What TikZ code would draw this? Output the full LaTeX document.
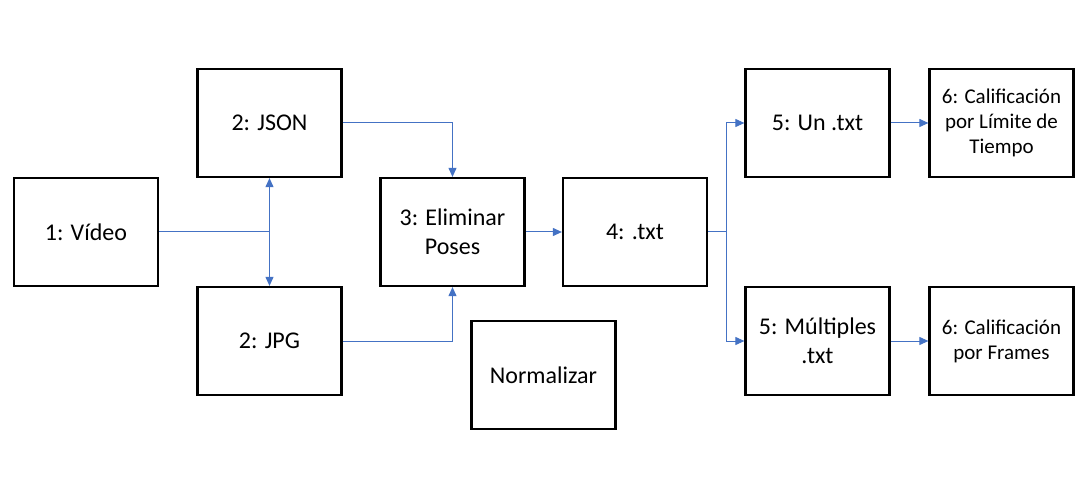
\documentclass[tikz,border=0pt]{standalone}
\usepackage{fontspec}
\setmainfont{Carlito}
\usetikzlibrary{arrows.meta}
\definecolor{lnblue}{HTML}{4472C4}
\begin{document}
\begin{tikzpicture}[x=1pt,y=-1pt,
  box/.style={draw=black,line width=2.2pt,minimum width=144pt,minimum height=108pt,
    inner sep=0pt,align=center,font=\fontsize{24}{29.5}\selectfont},
  smallbox/.style={box,font=\fontsize{21}{25}\selectfont},
  conn/.style={draw=lnblue,line width=1pt},
  arr/.style={conn,-{Triangle[length=9pt,width=8pt]}}]
\path[use as bounding box] (0,0) rectangle (1090,481);
\node[box] (vid) at (86,232) {1: Vídeo};
\node[box] (json) at (269.5,123) {2: JSON};
\node[box] (jpg) at (269.5,341) {2: JPG};
\node[box] (elim) at (452.5,232) {3: Eliminar\\Poses};
\node[box] (txt4) at (635,232) {4: .txt};
\node[box] (norm) at (543.5,375) {Normalizar};
\node[box] (un) at (817.5,123) {5: Un .txt};
\node[box] (mult) at (817.5,341) {5: Múltiples\\.txt};
\node[smallbox] (cal1) at (1001.5,123) {6: Calificación\\por Límite de\\Tiempo};
\node[smallbox] (cal2) at (1001.5,341) {6: Calificación\\por Frames};
\coordinate (j1) at (269.5,232);
\coordinate (j2) at (726.5,232);
\draw[conn] (vid.east) -- (j1);
\draw[arr] (j1) -- (json.south);
\draw[arr] (j1) -- (jpg.north);
\draw[arr] (json.east) -| (elim.north);
\draw[arr] (jpg.east) -| (elim.south);
\draw[arr] (elim.east) -- (txt4.west);
\draw[conn] (txt4.east) -- (j2);
\draw[arr] (j2) |- (un.west);
\draw[arr] (j2) |- (mult.west);
\draw[arr] (un.east) -- (cal1.west);
\draw[arr] (mult.east) -- (cal2.west);
\end{tikzpicture}
\end{document}
